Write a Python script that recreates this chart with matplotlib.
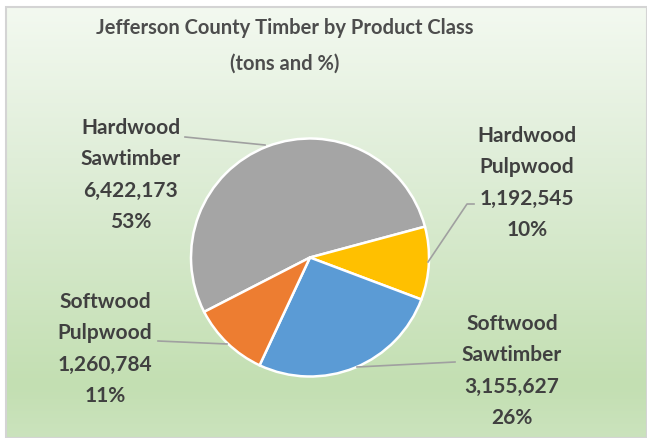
import numpy as np
import matplotlib.pyplot as plt
from matplotlib.colors import LinearSegmentedColormap
from matplotlib.patches import Rectangle

W, H = 647, 438

title = "Jefferson County Timber by Product Class\n(tons and %)"
classes = ["Hardwood\nSawtimber", "Hardwood\nPulpwood", "Softwood\nSawtimber", "Softwood\nPulpwood"]
tons = [6422173, 1192545, 3155627, 1260784]
pct_labels = ["53%", "10%", "26%", "11%"]
colors = ["#A5A5A5", "#FFC000", "#5B9BD5", "#ED7D31"]

# label centre (px) and leader line points (px) for each class
label_xy = [(131, 175), (527, 183), (512, 371), (105, 349)]
leaders = [
    [(185, 137), (265, 145)],
    [(428, 262), (467, 204), (474, 204)],
    [(357, 367), (455, 362)],
    [(158, 341), (227, 344)],
]

plt.rcParams['font.family'] = ['Lato', 'DejaVu Sans']

fig = plt.figure(figsize=(W / 100, H / 100), dpi=100)
fig.patch.set_facecolor("white")

# gradient background
bg = fig.add_axes([6 / W, 0, (W - 6) / W, (H - 7) / H])
bg.set_axis_off()
cmap = LinearSegmentedColormap.from_list(
    "bg", [(0, "#f3f9f0"), (0.35, "#e0eed9"), (0.88, "#c3dfb2"), (1, "#cbe3bd")])
grad = np.linspace(0, 1, 256)[:, None]
bg.imshow(grad, aspect="auto", cmap=cmap, extent=[0, 1, 0, 1], origin="upper")
bg.set_xlim(0, 1)
bg.set_ylim(0, 1)
fig.patches.append(Rectangle((6 / W, 0), (W - 6) / W, (H - 7) / H, transform=fig.transFigure,
                             fill=False, edgecolor="#d4d4d4", lw=1.5))

# pie
cx, cy, r = 310, 257.5, 119
ax = fig.add_axes([(cx - r) / W, (H - cy - r) / H, 2 * r / W, 2 * r / H])
ax.pie(tons, colors=colors, startangle=207.2, counterclock=False,
       wedgeprops=dict(edgecolor="white", linewidth=1.8))
ax.set_xlim(-1, 1)
ax.set_ylim(-1, 1)
ax.set_aspect("auto")

for name, t, p, (lx, ly) in zip(classes, tons, pct_labels, label_xy):
    txt = f"{name}\n{t:,}\n{p}"
    fig.text(lx / W, 1 - ly / H, txt, ha="center", va="center", fontsize=15,
             fontweight="bold", color="#404040", linespacing=1.72)

for pts in leaders:
    xs = [p[0] / W for p in pts]
    ys = [1 - p[1] / H for p in pts]
    fig.add_artist(plt.Line2D(xs, ys, transform=fig.transFigure, color="#a0a0a0", lw=1.2))

fig.text(285 / W, 1 - 46 / H, title, ha="center", va="center", fontsize=14.5,
         fontweight="bold", color="#4d4d4d", linespacing=1.95)

fig.savefig("out.png", dpi=100)
